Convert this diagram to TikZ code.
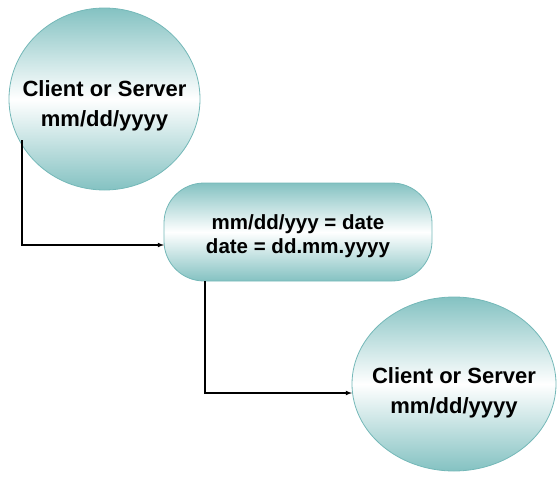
\documentclass[tikz,border=0pt]{standalone}
\usepackage{fontspec}
\setmainfont{Liberation Sans}
\usetikzlibrary{arrows,shapes.geometric}
\definecolor{tealedge}{HTML}{74B8B8}
\definecolor{tealfill}{HTML}{84C2C2}
\tikzset{
    %Define standard arrow tip
    >=latex,
    %Define style for the end points
    station/.style={
           ellipse,
           draw=tealedge, thick,
           top color=tealfill,
           bottom color=tealfill,
           middle color=white,
           inner sep=0pt,
           outer sep=0pt},
    %Define style for the conversion box
    convert/.style={
           rectangle,
           rounded corners=40pt,
           draw=tealedge, thick,
           top color=tealfill,
           bottom color=tealfill,
           middle color=white,
           minimum width=268pt,
           minimum height=98pt,
           outer sep=0pt},
    %Define style for the texts
    caption/.style={
           inner sep=0pt,
           align=center,
           font=\bfseries\fontsize{22}{30}\selectfont},
    rulecaption/.style={
           caption,
           font=\bfseries\fontsize{20.5}{24}\selectfont},
    % Define arrow style
    pil/.style={
           ->,
           line width=1.1pt}
}
\begin{document}
\begin{tikzpicture}[x=1pt,y=-1pt]
 \useasboundingbox (0,0) rectangle (557,477);

 \node[station, minimum width=191pt, minimum height=182pt] (source) at (104.5,99) {};
 \node[caption] (sourcetext) at ([yshift=-7pt]source.center)
   {Client or Server\\mm/dd/yyyy};

 \node[convert] (rule) at (298,232) {};
 \node[rulecaption] (ruletext) at ([yshift=-4pt]rule.center)
   {mm/dd/yyy = date\\date = dd.mm.yyyy};

 \node[station, minimum width=204pt, minimum height=174pt] (target) at (454,384) {};
 \node[caption] (targettext) at ([yshift=-9pt]target.center)
   {Client or Server\\mm/dd/yyyy};

 \coordinate (srcout) at (22,140);
 \coordinate (ruleout) at (205,281);

 \draw[pil] (srcout) |- (rule.west |- 0,245);
 \draw[pil] (ruleout) |- (target.west |- 0,393);

\end{tikzpicture}
\end{document}
